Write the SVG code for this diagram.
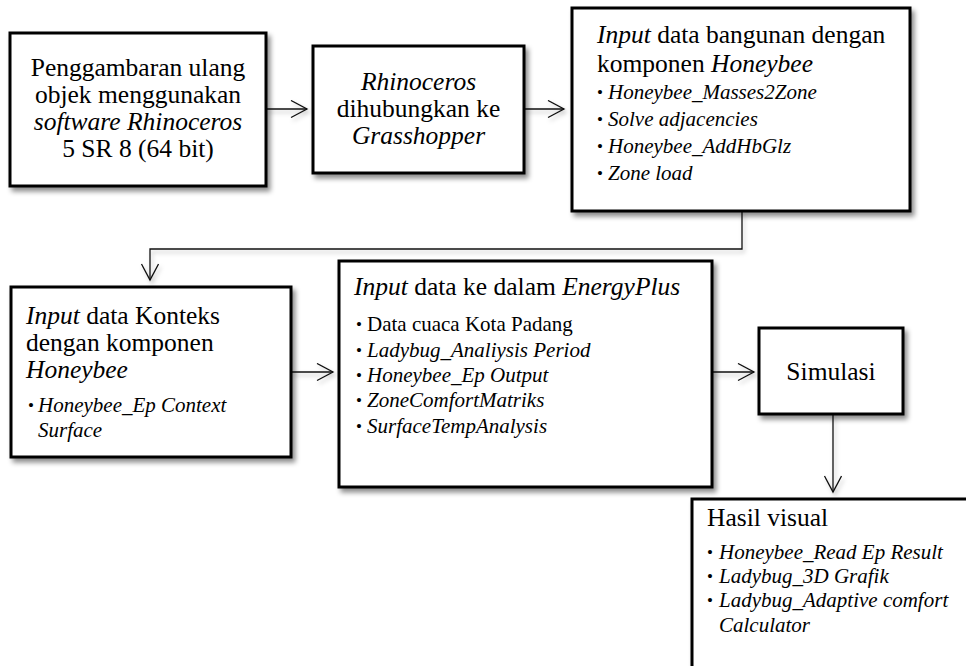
<svg xmlns="http://www.w3.org/2000/svg" width="966" height="666" viewBox="0 0 966 666">
<style>
text{font-family:"Liberation Serif","Times New Roman",serif;fill:#000}
.t{font-size:25.5px}
.c{text-anchor:middle}
.s{font-size:21px}
.dot{font-size:17px}
.i{font-style:italic}
.box{fill:#fff;stroke:#000;stroke-width:3;filter:url(#sh)}
.con{fill:none;stroke:#111;stroke-width:1.3;marker-end:url(#ah)}
</style>
<defs>
<filter id="sh" x="-10%" y="-10%" width="130%" height="130%">
<feDropShadow dx="3" dy="4" stdDeviation="2.5" flood-color="#000" flood-opacity="0.45"/>
</filter>
<filter id="sh2" filterUnits="userSpaceOnUse" x="0" y="0" width="966" height="666">
<feDropShadow dx="2" dy="3" stdDeviation="2" flood-color="#000" flood-opacity="0.25"/>
</filter>
<marker id="ah" viewBox="0 0 20 20" refX="17" refY="9" markerWidth="20" markerHeight="20" markerUnits="userSpaceOnUse" orient="auto">
<path d="M1,0.5 L17,9 L1,17.5" fill="none" stroke="#111" stroke-width="1.3"/>
</marker>
</defs>

<g id="connectors" filter="url(#sh2)">
<path class="con" d="M266,109 H307"/>
<path class="con" d="M524,109 H564"/>
<path class="con" d="M742,211 V249 H150 V280"/>
<path class="con" d="M291,372 H333"/>
<path class="con" d="M712,372 H754"/>
<path class="con" d="M833,414 V492"/>
</g>

<g id="node-penggambaran">
<rect class="box" x="10" y="33" width="256" height="153"/>
<text class="t c" x="138" y="76">Penggambaran ulang</text>
<text class="t c" x="138" y="103">objek menggunakan</text>
<text class="t c i" x="138" y="130">software Rhinoceros</text>
<text class="t c" x="138" y="157">5 SR 8 (64 bit)</text>
</g>

<g id="node-rhinoceros">
<rect class="box" x="313" y="46" width="211" height="127"/>
<text class="t c i" x="418.5" y="90">Rhinoceros</text>
<text class="t c" x="418.5" y="117">dihubungkan ke</text>
<text class="t c i" x="418.5" y="144">Grasshopper</text>
</g>

<g id="node-bangunan">
<rect class="box" x="572" y="8" width="338" height="203"/>
<text class="t" x="597" y="43"><tspan class="i">Input</tspan> data bangunan dengan</text>
<text class="t" x="597" y="72">komponen <tspan class="i">Honeybee</tspan></text>
<text class="dot" x="597" y="98">•</text><text class="s i" x="608" y="99">Honeybee_Masses2Zone</text>
<text class="dot" x="597" y="125">•</text><text class="s i" x="608" y="126">Solve adjacencies</text>
<text class="dot" x="597" y="152">•</text><text class="s i" x="608" y="153">Honeybee_AddHbGlz</text>
<text class="dot" x="597" y="179">•</text><text class="s i" x="608" y="180">Zone load</text>
</g>

<g id="node-konteks">
<rect class="box" x="11" y="287" width="280" height="170"/>
<text class="t" x="26" y="324"><tspan class="i">Input</tspan> data Konteks</text>
<text class="t" x="26" y="351">dengan komponen</text>
<text class="t i" x="26" y="378">Honeybee</text>
<text class="dot" x="28" y="411">•</text><text class="s i" x="38" y="412">Honeybee_Ep Context</text>
<text class="s i" x="38" y="437">Surface</text>
</g>

<g id="node-energyplus">
<rect class="box" x="339" y="261" width="373" height="226"/>
<text class="t" x="354" y="295"><tspan class="i">Input</tspan> data ke dalam <tspan class="i">EnergyPlus</tspan></text>
<text class="dot" x="356" y="330">•</text><text class="s" x="367" y="331">Data cuaca Kota Padang</text>
<text class="dot" x="356" y="356">•</text><text class="s i" x="367" y="357">Ladybug_Analiysis Period</text>
<text class="dot" x="356" y="381">•</text><text class="s i" x="367" y="382">Honeybee_Ep Output</text>
<text class="dot" x="356" y="406">•</text><text class="s i" x="367" y="407">ZoneComfortMatriks</text>
<text class="dot" x="356" y="432">•</text><text class="s i" x="367" y="433">SurfaceTempAnalysis</text>
</g>

<g id="node-simulasi">
<rect class="box" x="759" y="328" width="144" height="86"/>
<text class="t c" x="831" y="380">Simulasi</text>
</g>

<g id="node-hasil">
<rect class="box" x="692" y="499" width="300" height="190"/>
<text class="t" x="707" y="526">Hasil visual</text>
<text class="dot" x="707" y="558">•</text><text class="s i" x="719" y="559">Honeybee_Read Ep Result</text>
<text class="dot" x="707" y="582">•</text><text class="s i" x="719" y="583">Ladybug_3D Grafik</text>
<text class="dot" x="707" y="606">•</text><text class="s i" x="719" y="607">Ladybug_Adaptive comfort</text>
<text class="s i" x="719" y="632">Calculator</text>
</g>
</svg>
